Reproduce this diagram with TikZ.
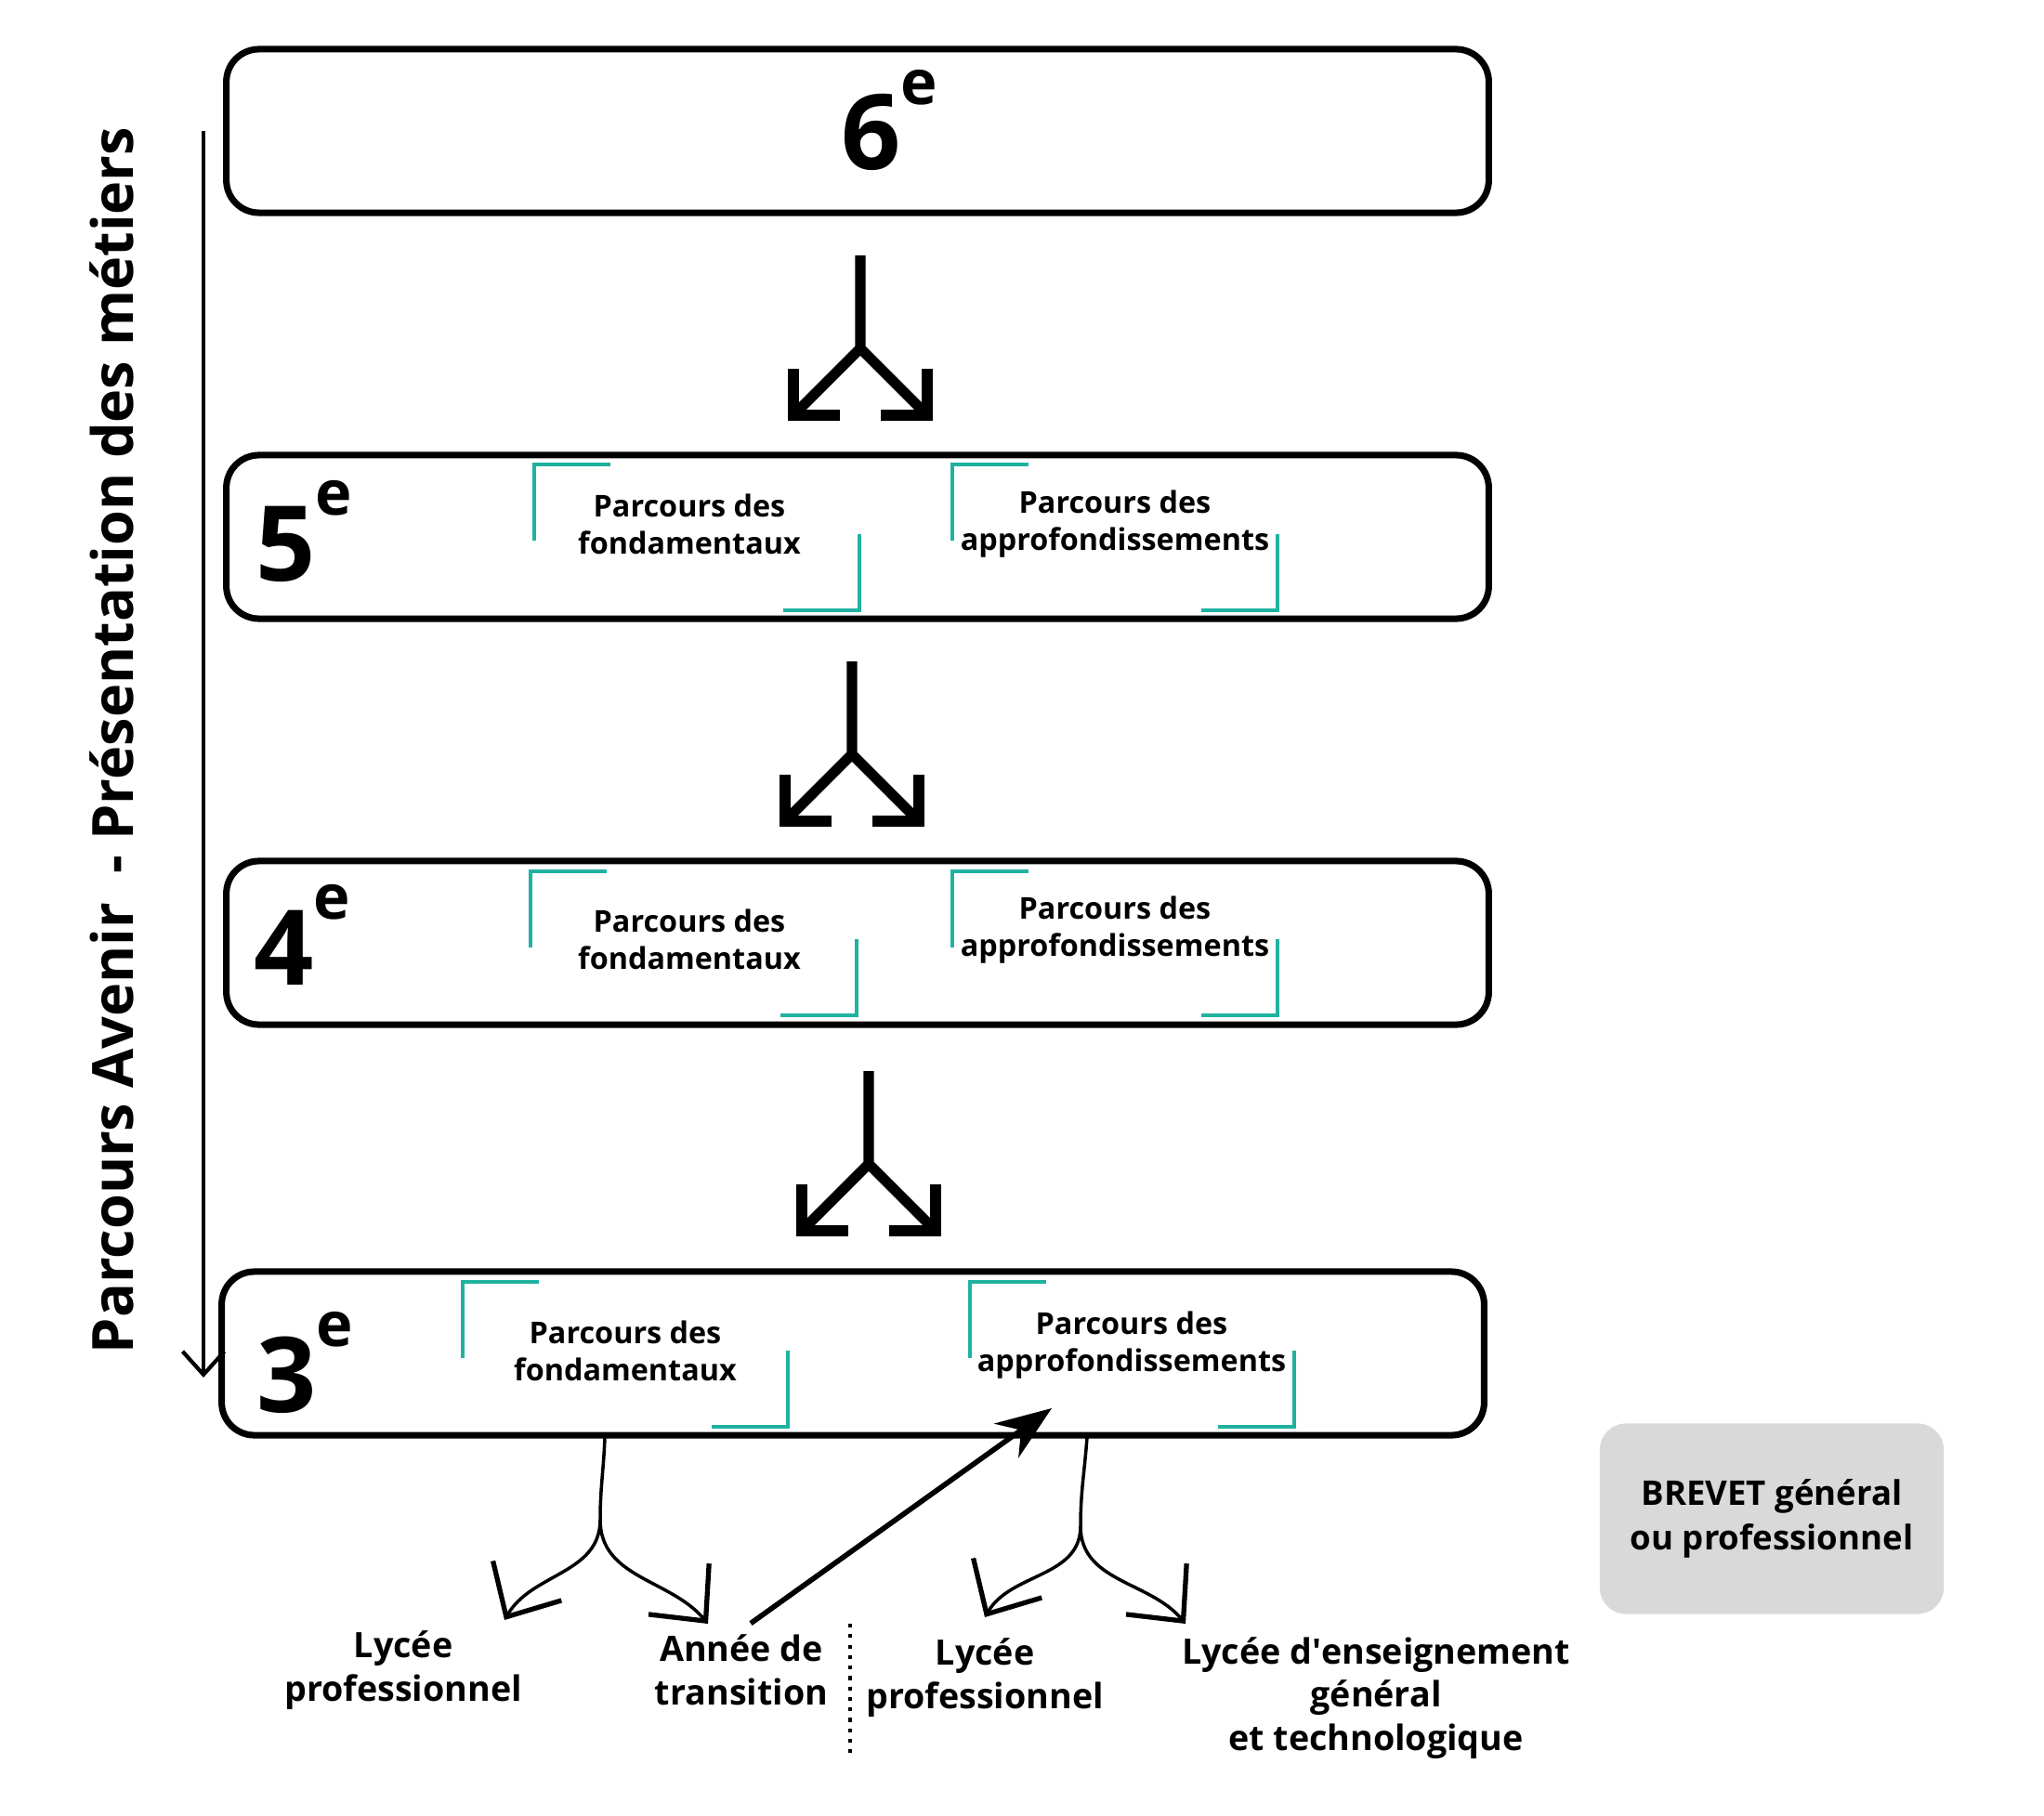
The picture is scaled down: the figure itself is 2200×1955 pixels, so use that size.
\documentclass[tikz,border=0pt]{standalone}
\usepackage{fontspec}
\setmainfont{Open Sans}
\usetikzlibrary{arrows.meta,positioning}

\definecolor{vertcoin}{RGB}{32,178,160}
\definecolor{grisbrevet}{RGB}{217,217,217}

\newcommand{\expE}{\raisebox{20pt}{\fontsize{19}{19}\selectfont e}}
\newcommand{\crochets}[4]{%
  \draw[coin] (#1+82,-#2) -- (#1,-#2) -- (#1,-#2-82);
  \draw[coin] (#3,-#4+82) -- (#3,-#4) -- (#3-82,-#4);}

\tikzset{
  annee/.style={draw=black, line width=2pt, rounded corners=10pt,
    minimum width=13.58cm, minimum height=1.76cm},
  niveau/.style={font=\bfseries\fontsize{32}{32}\selectfont, anchor=base west, inner sep=0pt},
  parcours/.style={font=\bfseries\fontsize{9.2}{11.3}\selectfont, align=center},
  coin/.style={draw=vertcoin, line width=0.9pt},
  trait/.style={line width=3.2pt, line join=miter},
  sortie/.style={font=\bfseries\fontsize{10.7}{13.3}\selectfont, align=center},
  brevet/.style={fill=grisbrevet, rounded corners=8pt, minimum width=3.7cm,
    minimum height=2.05cm, align=center, font=\bfseries\fontsize{10.4}{13.8}\selectfont},
  courbe/.style={line width=1pt, -{Straight Barb[length=4.5mm,width=8.5mm,line width=1.5pt]}},
  fourche/.pic={
    \draw[trait] (0,0) -- (0,-100) -- (-72,-172) (0,-100) -- (72,-172);
    \draw[trait] (-72,-122) -- (-72,-172) -- (-22,-172);
    \draw[trait] (72,-122) -- (72,-172) -- (22,-172);
  },
}

\begin{document}
\begin{tikzpicture}[x=0.01cm, y=0.01cm]
  \useasboundingbox (0,0) rectangle (2200,-1955);

  % les quatre niveaux
  \node[annee] (six) at (923,-141) {};
  \node[annee] (cinq) at (923,-578) {};
  \node[annee] (quatre) at (923,-1015) {};
  \node[annee] (trois) at (918,-1457) {};

  \node[niveau] (n6) at (905,-183) {6\expE};
  \node[niveau] (n5) at (275,-625) {5\expE};
  \node[niveau] (n4) at (273,-1060) {4\expE};
  \node[niveau] (n3) at (276,-1520) {3\expE};

  % parcours
  \node[parcours] (f5) at (742,-564) {Parcours des\\fondamentaux};
  \node[parcours] (a5) at (1200,-564) {Parcours des\\approfondissements};
  \node[parcours] (f4) at (742,-1011) {Parcours des\\fondamentaux};
  \node[parcours] (a4) at (1200,-1001) {Parcours des\\approfondissements};
  \node[parcours] (f3) at (673,-1454) {Parcours des\\fondamentaux};
  \node[parcours] (a3) at (1218,-1448) {Parcours des\\approfondissements};

  \crochets{575}{500}{925}{657}
  \crochets{1025}{500}{1375}{657}
  \crochets{571}{938}{922}{1093}
  \crochets{1025}{938}{1375}{1093}
  \crochets{498}{1380}{848}{1536}
  \crochets{1044}{1380}{1393}{1536}

  % passages d'un niveau a l'autre
  \pic at (926,-275) {fourche};
  \pic at (917,-712) {fourche};
  \pic at (935,-1153) {fourche};

  % parcours avenir
  \coordinate (hautfl) at (219,-141);
  \coordinate (basfl) at (219,-1483);
  \draw[line width=1.2pt, -{Straight Barb[length=2.5mm,width=4.5mm]}] (hautfl) -- (basfl);
  \node[rotate=90, font=\bfseries\fontsize{17.4}{17.4}\selectfont] (avenir) at (120,-797)
    {Parcours Avenir\ \ - Présentation des métiers};

  % apres la 3e
  \node[sortie] (lp1) at (434,-1798) {Lycée\\professionnel};
  \node[sortie] (transition) at (798,-1798) {Année de\\transition};
  \node[sortie] (lp2) at (1060,-1806) {Lycée\\professionnel};
  \node[sortie] (legt) at (1481,-1828) {Lycée d\textquotesingle enseignement\\général\\et technologique};
  \node[brevet] (brevet) at (1907,-1635) {BREVET général\\ou professionnel};

  \coordinate (g0) at (651,-1547);
  \coordinate (g1) at (646,-1636);
  \coordinate (gl) at (543,-1744);
  \coordinate (gr) at (762,-1748);
  \draw[line width=1pt] (g0) to[out=-92,in=90] (g1);
  \draw[courbe] (g1) to[out=-90,in=60] (gl);
  \draw[courbe] (g1) to[out=-90,in=130] (gr);

  \coordinate (d0) at (1170,-1547);
  \coordinate (d1) at (1163,-1643);
  \coordinate (dl) at (1060,-1741);
  \coordinate (dr) at (1276,-1748);
  \draw[line width=1pt] (d0) to[out=-94,in=90] (d1);
  \draw[courbe] (d1) to[out=-90,in=60] (dl);
  \draw[courbe] (d1) to[out=-90,in=130] (dr);

  \coordinate (versa3) at (1132,-1516);
  \draw[line width=1.6pt, -{Stealth[length=6mm,width=4.5mm]}]
    ([xshift=0.1cm]transition.north) -- (versa3);

  \coordinate (pt1) at (915,-1748);
  \coordinate (pt2) at (915,-1890);
  \draw[dotted, line width=1.2pt] (pt1) -- (pt2);
\end{tikzpicture}
\end{document}
